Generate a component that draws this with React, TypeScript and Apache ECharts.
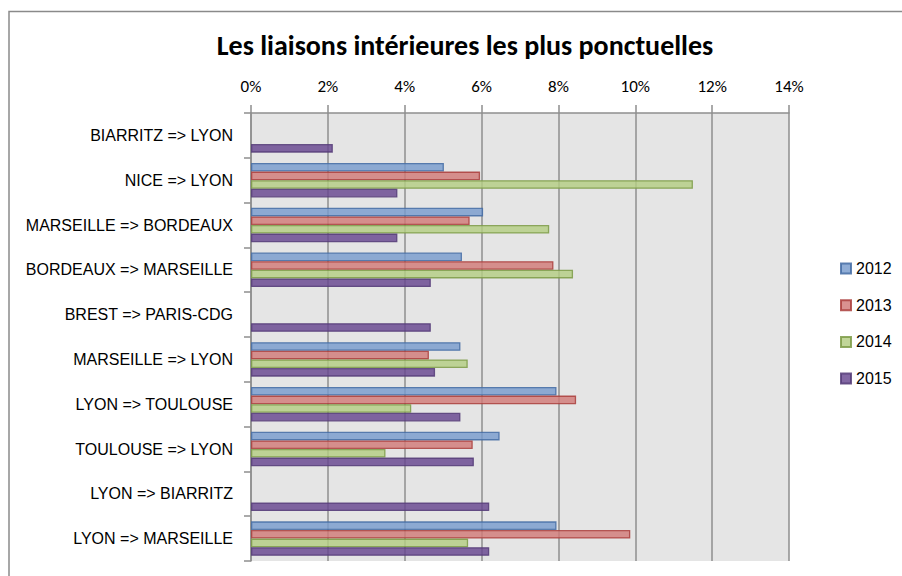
import React, { useEffect, useRef } from "react";
import * as echarts from "echarts";

const categories = [
  "BIARRITZ => LYON",
  "NICE => LYON",
  "MARSEILLE => BORDEAUX",
  "BORDEAUX => MARSEILLE",
  "BREST => PARIS-CDG",
  "MARSEILLE => LYON",
  "LYON => TOULOUSE",
  "TOULOUSE => LYON",
  "LYON => BIARRITZ",
  "LYON => MARSEILLE",
];
const seriesNames = ["2012", "2013", "2014", "2015"];
const s2012 = [null, 5.02, 6.04, 5.49, null, 5.45, 7.95, 6.47, null, 7.95];
const s2013 = [null, 5.96, 5.69, 7.87, null, 4.63, 8.46, 5.77, null, 9.87];
const s2014 = [null, 11.5, 7.76, 8.38, null, 5.64, 4.17, 3.5, null, 5.65];
const s2015 = [2.13, 3.81, 3.81, 4.68, 4.68, 4.79, 5.45, 5.8, 6.2, 6.2];
const xTicks = [0, 2, 4, 6, 8, 10, 12, 14];
const titleText = "Les liaisons intérieures les plus ponctuelles";

const fills = [
  "rgba(120,155,205,0.82)",
  "rgba(209,122,120,0.82)",
  "rgba(179,205,130,0.82)",
  "rgba(103,69,143,0.82)",
];
const borders = [
  "rgba(68,108,165,0.85)",
  "rgba(170,62,60,0.85)",
  "rgba(125,155,70,0.85)",
  "rgba(85,60,120,0.85)",
];

const TITLE_FONT = "Carlito, Lato, 'Liberation Sans', sans-serif";
const LABEL_FONT = "'Liberation Sans', Arial, sans-serif";

export default function App() {
  const ref = useRef<HTMLDivElement>(null);
  useEffect(() => {
    if (!ref.current) return;
    const chart = echarts.init(ref.current, undefined, { renderer: "svg" });
    const data = [s2012, s2013, s2014, s2015];
    chart.setOption({
      animation: false,
      backgroundColor: "#ffffff",
      textStyle: { fontFamily: LABEL_FONT },
      graphic: [
        {
          type: "rect",
          shape: { x: 9, y: 11.5, width: 1200, height: 1200 },
          style: { fill: "none", stroke: "#8a8a8a", lineWidth: 1.5 },
          silent: true,
        },
        {
          type: "text",
          x: 465,
          y: 45,
          style: {
            text: titleText,
            textAlign: "center",
            textVerticalAlign: "middle",
            fontFamily: TITLE_FONT,
            fontWeight: "bold",
            fontSize: 28,
            fill: "#000000",
          },
        },
      ],
      grid: {
        left: 251,
        top: 113,
        width: 538,
        height: 448,
        show: true,
        backgroundColor: "#e5e5e5",
        borderWidth: 0,
      },
      legend: {
        orient: "vertical",
        left: 835,
        top: 255.5,
        itemWidth: 10,
        itemHeight: 10,
        itemGap: 20.7,
        icon: "rect",
        data: seriesNames,
        textStyle: { fontSize: 16, color: "#000", fontFamily: LABEL_FONT },
      },
      xAxis: {
        type: "value",
        position: "top",
        min: xTicks[0],
        max: xTicks[xTicks.length - 1],
        interval: 2,
        axisLine: { show: true, lineStyle: { color: "#8e8e8e", width: 1.5 } },
        axisTick: { show: true, length: 8, lineStyle: { color: "#8e8e8e", width: 1.5 } },
        splitLine: { show: true, lineStyle: { color: "#8e8e8e", width: 1.5 } },
        axisLabel: {
          formatter: "{value}%",
          margin: 18,
          fontSize: 17,
          color: "#000",
          fontFamily: TITLE_FONT,
        },
      },
      yAxis: {
        type: "category",
        inverse: true,
        data: categories,
        axisLine: { show: true, lineStyle: { color: "#8e8e8e", width: 1.5 } },
        axisTick: { show: true, length: 7, lineStyle: { color: "#8e8e8e", width: 1.5 } },
        axisLabel: { margin: 18, fontSize: 16, color: "#000", fontFamily: LABEL_FONT },
      },
      series: seriesNames.map((name, i) => ({
        name,
        type: "bar",
        data: data[i],
        barGap: "0%",
        barCategoryGap: "23%",
        itemStyle: { color: fills[i], borderColor: borders[i], borderWidth: 1.3 },
      })),
    });
    return () => chart.dispose();
  }, []);
  return (
    <div
      ref={ref}
      style={{ position: "absolute", left: 0, top: 0, width: 902, height: 576 }}
    />
  );
}
